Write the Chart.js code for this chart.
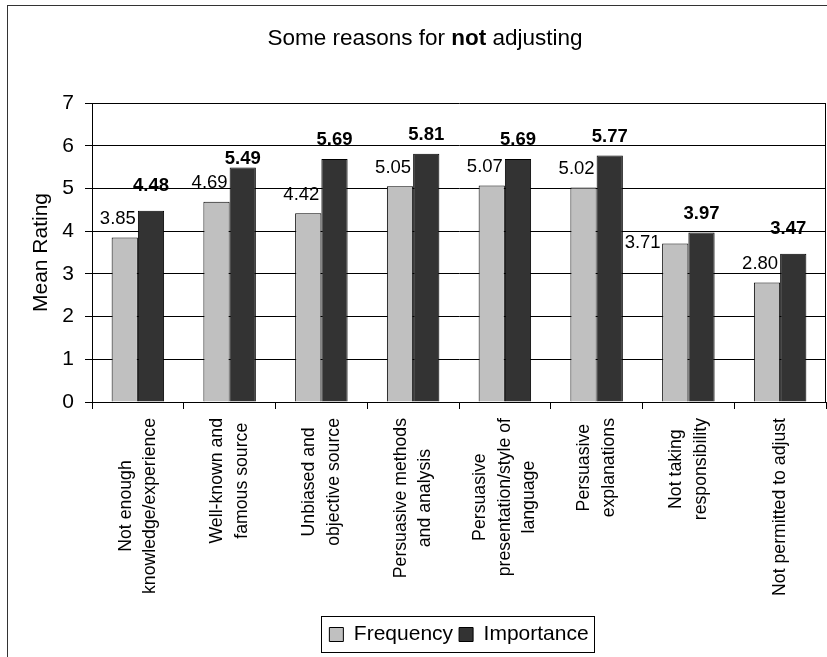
<!DOCTYPE html>
<html lang="en">
<head>
  <meta charset="UTF-8" />
  <title>Some reasons for not adjusting</title>
  <script src="https://cdn.jsdelivr.net/npm/chart.js@4"></script>
  <style>
    html, body { margin: 0; padding: 0; background: #fff; }
    #wrap { width: 827px; height: 657px; position: relative; }
  </style>
</head>
<body>
  <div id="wrap"><canvas id="reasonsChart"></canvas></div>

  <script>
    // Data
    const categories = [
      ['Not enough', 'knowledge/experience'],
      ['Well-known and', 'famous source'],
      ['Unbiased and', 'objective source'],
      ['Persuasive methods', 'and analysis'],
      ['Persuasive', 'presentation/style of', 'language'],
      ['Persuasive', 'explanations'],
      ['Not taking', 'responsibility'],
      ['Not permitted to adjust']
    ];
    const frequency = [3.85, 4.69, 4.42, 5.05, 5.07, 5.02, 3.71, 2.80];
    const importance = [4.48, 5.49, 5.69, 5.81, 5.69, 5.77, 3.97, 3.47];
    const yTicks = [0, 1, 2, 3, 4, 5, 6, 7];

    const FONT = '"Liberation Sans", Arial, sans-serif';
    Chart.defaults.font.family = FONT;
    Chart.defaults.color = '#000';

    // a few value labels were moved by hand off their usual spot
    const labelNudge = {
      '0-6': { side: 'left', dy: -18.2 },
      '1-0': { dy: 6.5 },
      '1-1': { dy: -10.5 },
      '1-7': { dx: -5, dy: 6 }
    };

    // frame, plot border, title, category labels, value labels, legend box
    const decorations = {
      id: 'decorations',
      afterDraw(chart) {
        const ctx = chart.ctx;
        const area = chart.chartArea;
        ctx.save();

        // outer chart frame (runs off the right and bottom edge)
        ctx.strokeStyle = '#333';
        ctx.lineWidth = 1;
        ctx.strokeRect(7.5, 5.5, 900, 900);

        // right side of plot box
        ctx.strokeStyle = '#000';
        ctx.beginPath();
        ctx.moveTo(Math.round(area.right) - 0.5, area.top);
        ctx.lineTo(Math.round(area.right) - 0.5, area.bottom);
        ctx.stroke();

        // title with a bold word
        const parts = [['Some reasons for ', 'normal'], ['not', 'bold'], [' adjusting', 'normal']];
        let total = 0;
        parts.forEach(p => {
          ctx.font = p[1] + ' 22.5px ' + FONT;
          total += ctx.measureText(p[0]).width;
        });
        let tx = 425 - total / 2;
        ctx.fillStyle = '#000';
        ctx.textBaseline = 'alphabetic';
        ctx.textAlign = 'left';
        parts.forEach(p => {
          ctx.font = p[1] + ' 22.5px ' + FONT;
          ctx.fillText(p[0], tx, 45);
          tx += ctx.measureText(p[0]).width;
        });

        // rotated category labels, lines centred on each other
        const xs = chart.scales.x;
        const labelTop = area.bottom + 16;
        const lineGap = 24.5;
        ctx.font = '17.7px ' + FONT;
        ctx.textAlign = 'center';
        ctx.textBaseline = 'middle';
        categories.forEach((lines, i) => {
          const cx = xs.getPixelForValue(i);
          const maxW = Math.max(...lines.map(l => ctx.measureText(l).width));
          lines.forEach((line, k) => {
            const off = (k - (lines.length - 1) / 2) * lineGap;
            ctx.save();
            ctx.translate(cx + off, labelTop + maxW / 2);
            ctx.rotate(-Math.PI / 2);
            ctx.fillText(line, 0, 0);
            ctx.restore();
          });
        });

        // value labels above the bars
        ctx.textBaseline = 'alphabetic';
        chart.data.datasets.forEach((ds, d) => {
          const meta = chart.getDatasetMeta(d);
          meta.data.forEach((bar, i) => {
            const { x, y, width } = bar.getProps(['x', 'y', 'width'], true);
            const nudge = labelNudge[d + '-' + i] || {};
            const text = ds.data[i].toFixed(2);
            let lx;
            const ly = y - 13.5 - (nudge.dy || 0);
            if (d === 0) {
              ctx.font = '18.5px ' + FONT;
              ctx.textAlign = 'right';
              lx = nudge.side === 'left' ? x - width / 2 - 1.5 : x + width / 2 - 2;
            } else {
              ctx.font = 'bold 18.5px ' + FONT;
              ctx.textAlign = 'center';
              lx = x;
            }
            lx += nudge.dx || 0;
            ctx.fillText(text, lx, ly);
          });
        });

        // box round the legend
        const boxes = chart.legend.legendHitBoxes;
        if (boxes && boxes.length) {
          const first = boxes[0];
          const last = boxes[boxes.length - 1];
          const left = first.left - 8;
          const right = last.left + last.width + 6;
          const top = first.top - 8;
          const bottom = first.top + first.height + 7;
          ctx.strokeStyle = '#000';
          ctx.strokeRect(Math.round(left) + 0.5, Math.round(top) + 0.5,
                         Math.round(right - left), Math.round(bottom - top));
        }
        ctx.restore();
      }
    };

    new Chart(document.getElementById('reasonsChart'), {
      type: 'bar',
      data: {
        labels: categories,
        datasets: [
          {
            label: 'Frequency',
            data: frequency,
            backgroundColor: '#c0c0c0',
            borderColor: '#000',
            borderWidth: 1
          },
          {
            label: 'Importance',
            data: importance,
            backgroundColor: '#333333',
            borderColor: '#000',
            borderWidth: 1
          }
        ]
      },
      options: {
        responsive: true,
        maintainAspectRatio: false,
        animation: false,
        devicePixelRatio: 1,
        categoryPercentage: 0.572,
        barPercentage: 1,
        layout: { padding: { top: 103, right: 1, bottom: 2, left: 0 } },
        plugins: {
          title: { display: false },
          tooltip: { enabled: false },
          legend: {
            position: 'bottom',
            fullSize: false,
            labels: {
              font: { size: 21 },
              color: '#000',
              boxWidth: 14,
              boxHeight: 14,
              padding: 6
            }
          }
        },
        scales: {
          x: {
            grid: {
              offset: true,
              drawOnChartArea: false,
              drawTicks: true,
              tickLength: 7,
              color: '#000'
            },
            border: { color: '#000' },
            ticks: { display: false },
            afterFit(scale) { scale.height = 216; }
          },
          y: {
            min: 0,
            max: 7,
            afterBuildTicks(scale) { scale.ticks = yTicks.map(v => ({ value: v })); },
            ticks: { font: { size: 21 }, color: '#000', padding: 11 },
            grid: { color: '#000', tickLength: 7 },
            border: { color: '#000' },
            title: {
              display: true,
              text: 'Mean Rating',
              font: { size: 21 },
              color: '#000',
              padding: { top: 29, bottom: 0 }
            },
            afterFit(scale) { scale.width = 92; }
          }
        }
      },
      plugins: [decorations]
    });
  </script>
</body>
</html>
